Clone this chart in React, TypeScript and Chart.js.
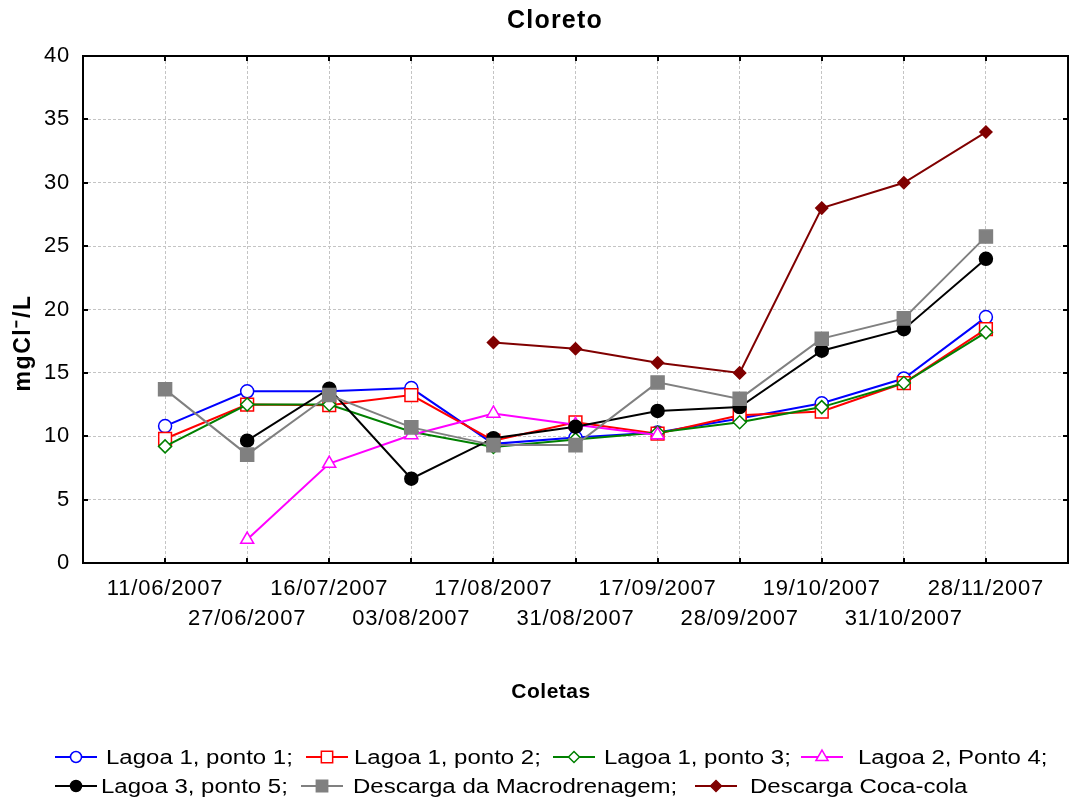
import { useEffect, useRef } from 'react';
import { Chart, registerables } from 'chart.js';

Chart.register(...registerables);

const categories = [
  '11/06/2007', '27/06/2007', '16/07/2007', '03/08/2007', '17/08/2007', '31/08/2007',
  '17/09/2007', '28/09/2007', '19/10/2007', '31/10/2007', '28/11/2007',
];

const lagoa1Ponto1 = [10.8, 13.55, 13.55, 13.8, 9.4, 9.9, 10.3, 11.4, 12.6, 14.55, 19.4];
const lagoa1Ponto2 = [9.8, 12.5, 12.45, 13.25, 9.65, 11.1, 10.2, 11.65, 11.95, 14.2, 18.45];
const lagoa1Ponto3 = [9.2, 12.5, 12.5, 10.35, 9.15, 9.75, 10.3, 11.1, 12.3, 14.2, 18.2];
const lagoa2Ponto4 = [null, 1.85, 7.85, 10.1, 11.8, 10.9, 10.1, null, null, null, null];
const lagoa3Ponto5 = [null, 9.65, 13.75, 6.65, 9.85, 10.75, 12.0, 12.3, 16.75, 18.45, 24.0];
const macrodrenagem = [13.7, 8.55, 13.25, 10.7, 9.3, 9.3, 14.25, 12.95, 17.7, 19.3, 25.75];
const cocaCola = [null, null, null, null, 17.4, 16.9, 15.8, 15.0, 28.0, 30.0, 34.0];

const yTickValues = [0, 5, 10, 15, 20, 25, 30, 35, 40];

const seriesNames = [
  'Lagoa 1, ponto 1;', 'Lagoa 1, ponto 2;', 'Lagoa 1, ponto 3;', 'Lagoa 2, Ponto 4;',
  'Lagoa 3, ponto 5;', 'Descarga da Macrodrenagem;', 'Descarga Coca-cola',
];
const seriesValues = [lagoa1Ponto1, lagoa1Ponto2, lagoa1Ponto3, lagoa2Ponto4, lagoa3Ponto5, macrodrenagem, cocaCola];
const seriesColors = ['#0000ff', '#ff0000', '#008000', '#ff00ff', '#000000', '#808080', '#800000'];
const seriesShapes = ['circle', 'rect', 'rectRot', 'triangle', 'circle', 'rect', 'rectRot'];
const seriesFilled = [false, false, false, false, true, true, true];
const seriesRadius = [6.5, 9, 6.5, 7.5, 6.5, 9.2, 6];

const FONT = '"Liberation Sans", Arial, sans-serif';

const legendPos = [
  { sx: 55, tx: 106, y: 757 },
  { sx: 306, tx: 354, y: 757 },
  { sx: 553, tx: 604, y: 757 },
  { sx: 801, tx: 858, y: 757 },
  { sx: 55, tx: 101, y: 786 },
  { sx: 301, tx: 353, y: 786 },
  { sx: 695, tx: 750, y: 786 },
];

function drawMarker(ctx: CanvasRenderingContext2D, shape: string, x: number, y: number, r: number, color: string, filled: boolean) {
  ctx.beginPath();
  if (shape === 'circle') {
    ctx.arc(x, y, r, 0, Math.PI * 2);
  } else if (shape === 'rect') {
    const s = r * Math.SQRT1_2;
    ctx.rect(x - s, y - s, 2 * s, 2 * s);
  } else if (shape === 'rectRot') {
    ctx.moveTo(x, y - r);
    ctx.lineTo(x + r, y);
    ctx.lineTo(x, y + r);
    ctx.lineTo(x - r, y);
    ctx.closePath();
  } else if (shape === 'triangle') {
    ctx.moveTo(x, y - r);
    ctx.lineTo(x + r * 0.866, y + r * 0.5);
    ctx.lineTo(x - r * 0.866, y + r * 0.5);
    ctx.closePath();
  }
  ctx.fillStyle = filled ? color : '#ffffff';
  ctx.fill();
  ctx.lineWidth = 1.5;
  ctx.strokeStyle = color;
  ctx.stroke();
}

function stretchedText(ctx: CanvasRenderingContext2D, text: string, x: number, y: number, sx: number) {
  ctx.save();
  ctx.translate(x, y);
  ctx.scale(sx, 1);
  ctx.fillText(text, 0, 0);
  ctx.restore();
}

const spacingPlugin = {
  id: 'spacing',
  beforeDraw(chart: any) {
    (chart.ctx as any).letterSpacing = '0.8px';
  },
};

const decorPlugin = {
  id: 'decor',
  afterDraw(chart: any) {
    const ctx: CanvasRenderingContext2D = chart.ctx;
    const { left, right, top, bottom } = chart.chartArea;
    const xs = chart.scales.x;
    const ys = chart.scales.y;
    ctx.save();
    (ctx as any).letterSpacing = '0px';
    // frame
    ctx.strokeStyle = '#000';
    ctx.lineWidth = 2;
    ctx.strokeRect(left, top, right - left, bottom - top);
    // inward ticks
    ctx.beginPath();
    for (let i = 1; i <= categories.length; i++) {
      const px = Math.round(xs.getPixelForValue(i));
      ctx.moveTo(px, bottom);
      ctx.lineTo(px, bottom - 5);
      ctx.moveTo(px, top);
      ctx.lineTo(px, top + 5);
    }
    for (const v of yTickValues) {
      const py = Math.round(ys.getPixelForValue(v));
      ctx.moveTo(left, py);
      ctx.lineTo(left + 5, py);
      ctx.moveTo(right, py);
      ctx.lineTo(right - 5, py);
    }
    ctx.stroke();

    // title
    ctx.fillStyle = '#000';
    ctx.textAlign = 'center';
    ctx.textBaseline = 'middle';
    (ctx as any).letterSpacing = '1.2px';
    ctx.font = `bold 25px ${FONT}`;
    ctx.fillText('Cloreto', 555, 21);
    // x title
    (ctx as any).letterSpacing = '0.5px';
    ctx.font = `bold 21px ${FONT}`;
    ctx.fillText('Coletas', 551, 692);
    // y title
    ctx.save();
    ctx.translate(24, 343);
    ctx.rotate(-Math.PI / 2);
    (ctx as any).letterSpacing = '1.6px';
    ctx.font = `bold 23px ${FONT}`;
    ctx.fillText('mgCl\u207B/L', 0, 0);
    ctx.restore();

    // legend
    ctx.font = `20px ${FONT}`;
    ctx.textAlign = 'left';
    ctx.textBaseline = 'middle';
    (ctx as any).letterSpacing = '0px';
    for (let i = 0; i < seriesNames.length; i++) {
      const p = legendPos[i];
      ctx.strokeStyle = seriesColors[i];
      ctx.lineWidth = 2;
      ctx.beginPath();
      ctx.moveTo(p.sx, p.y);
      ctx.lineTo(p.sx + 42, p.y);
      ctx.stroke();
      const r = seriesShapes[i] === 'rect' ? 8 : seriesShapes[i] === 'triangle' ? 7 : 5.5;
      drawMarker(ctx, seriesShapes[i], p.sx + 21, p.y, r, seriesColors[i], seriesFilled[i]);
      ctx.fillStyle = '#000';
      stretchedText(ctx, seriesNames[i], p.tx, p.y + 1, 1.2);
    }
    ctx.restore();
  },
};

export default function App() {
  const canvasRef = useRef<HTMLCanvasElement | null>(null);

  useEffect(() => {
    document.body.style.margin = '0';
    const canvas = canvasRef.current;
    if (!canvas) return;

    const datasets = seriesValues.map((vals, i) => ({
      label: seriesNames[i],
      data: vals.map((v, j) => ({ x: j + 1, y: v })),
      borderColor: seriesColors[i],
      backgroundColor: seriesFilled[i] ? seriesColors[i] : '#ffffff',
      pointBackgroundColor: seriesFilled[i] ? seriesColors[i] : '#ffffff',
      pointBorderColor: seriesColors[i],
      pointBorderWidth: 1.5,
      borderWidth: 2,
      pointStyle: seriesShapes[i],
      pointRadius: seriesRadius[i],
      tension: 0,
      spanGaps: false,
      order: seriesNames.length - i,
    }));

    const chart = new Chart(canvas, {
      type: 'line',
      data: { datasets },
      plugins: [spacingPlugin, decorPlugin],
      options: {
        animation: false,
        responsive: false,
        events: [],
        layout: { autoPadding: false, padding: { top: 56, right: 3, left: 0, bottom: 0 } },
        plugins: {
          legend: { display: false },
          title: { display: false },
          tooltip: { enabled: false },
        },
        scales: {
          x: {
            type: 'linear',
            min: 0,
            max: categories.length + 1,
            afterFit: (scale: any) => {
              scale.height = 240;
              scale.paddingLeft = 0;
              scale.paddingRight = 0;
            },
            afterBuildTicks: (scale: any) => {
              scale.ticks = Array.from({ length: categories.length + 2 }, (_, i) => ({ value: i }));
            },
            ticks: {
              autoSkip: false,
              maxRotation: 0,
              minRotation: 0,
              padding: 11,
              color: '#000',
              font: { family: FONT, size: 22, lineHeight: '30px' },
              callback: (value: any) => {
                const idx = Number(value) - 1;
                if (idx < 0 || idx >= categories.length) return '';
                return idx % 2 === 0 ? [categories[idx], ''] : ['', categories[idx]];
              },
            },
            grid: { color: '#c4c4c4', lineWidth: 1, drawTicks: false },
            border: { display: false, dash: [3, 2] },
          },
          y: {
            min: 0,
            max: 40,
            afterFit: (scale: any) => {
              scale.width = 83;
              scale.paddingTop = 0;
              scale.paddingBottom = 0;
            },
            afterBuildTicks: (scale: any) => {
              scale.ticks = yTickValues.map((v) => ({ value: v }));
            },
            ticks: {
              padding: 13,
              color: '#000',
              font: { family: FONT, size: 22 },
            },
            grid: { color: '#c4c4c4', lineWidth: 1, drawTicks: false },
            border: { display: false, dash: [3, 2] },
          },
        },
      },
    });

    return () => chart.destroy();
  }, []);

  return (
    <div style={{ width: 1071, height: 803, background: '#fff' }}>
      <canvas ref={canvasRef} width={1071} height={803} style={{ display: 'block' }} />
    </div>
  );
}
